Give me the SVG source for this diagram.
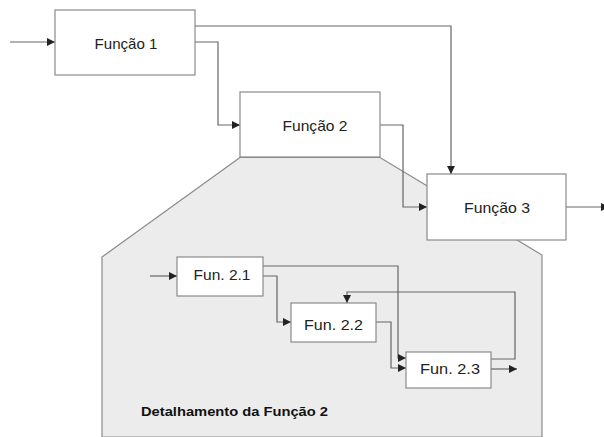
<svg xmlns="http://www.w3.org/2000/svg" width="604" height="437" viewBox="0 0 604 437">
<defs>
<marker id="ah" markerUnits="userSpaceOnUse" markerWidth="9" markerHeight="8" refX="8" refY="4" orient="auto">
<path d="M0,0 L8,4 L0,8 Z" fill="#222"/>
</marker>
<style>
.box{fill:#fff;stroke:#8a8a8a;stroke-width:1.2}
.lbl{font-family:"Liberation Sans",Arial,sans-serif;font-size:15px;fill:#222;text-anchor:middle}
.con{fill:none;stroke:#666;stroke-width:1.2;marker-end:url(#ah)}
</style>
</defs>
<rect width="604" height="437" fill="#fff"/>
<g id="detail">
<path d="M240,157.5 L102,257 L102,437 L542,437 L542,255 L380,157.5 Z" fill="#ececec" stroke="#8a8a8a" stroke-width="1.2"/>
<text x="141" y="416" font-family="'Liberation Sans',Arial,sans-serif" font-size="13" font-weight="bold" fill="#111" textLength="187" lengthAdjust="spacingAndGlyphs">Detalhamento da Função 2</text>
</g>
<g id="connectors">
<path class="con" d="M10,42 H55"/>
<path class="con" d="M195,26 H451 V174"/>
<path class="con" d="M195,42 H218 V125 H240"/>
<path class="con" d="M380,125 H403 V207 H427"/>
<path class="con" d="M566,207 H609"/>
<path class="con" d="M150,276 H177"/>
<path class="con" d="M263,266 H398 V358 H406"/>
<path class="con" d="M263,276 H277 V322 H291"/>
<path class="con" d="M376,322 H391 V368 H406"/>
<path class="con" d="M491,359 H515 V292 H347 V303"/>
<path class="con" d="M491,369 H517"/>
</g>
<g id="f1">
<rect class="box" x="55" y="10" width="140" height="65"/>
<text class="lbl" x="126" y="49" textLength="63" lengthAdjust="spacingAndGlyphs">Função 1</text>
</g>
<g id="f2">
<rect class="box" x="240" y="92" width="140" height="65"/>
<text class="lbl" x="315" y="131" textLength="65" lengthAdjust="spacingAndGlyphs">Função 2</text>
</g>
<g id="f3">
<rect class="box" x="427" y="174" width="139" height="66"/>
<text class="lbl" x="497" y="213" textLength="66" lengthAdjust="spacingAndGlyphs">Função 3</text>
</g>
<g id="f21">
<rect class="box" x="177" y="257" width="86" height="39"/>
<text class="lbl" x="222" y="280" textLength="57" lengthAdjust="spacingAndGlyphs">Fun. 2.1</text>
</g>
<g id="f22">
<rect class="box" x="291" y="303" width="85" height="39"/>
<text class="lbl" x="333.5" y="330" textLength="59" lengthAdjust="spacingAndGlyphs">Fun. 2.2</text>
</g>
<g id="f23">
<rect class="box" x="406" y="352" width="85" height="36"/>
<text class="lbl" x="450" y="374" textLength="60" lengthAdjust="spacingAndGlyphs">Fun. 2.3</text>
</g>
</svg>
